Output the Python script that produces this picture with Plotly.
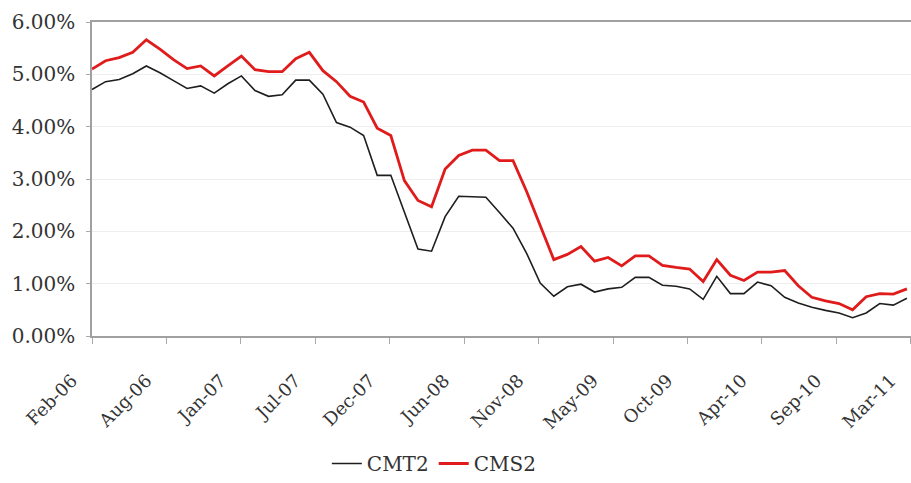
import plotly.graph_objects as go

# monthly yields (%), Feb-06 onwards
cmt2 = [4.71, 4.86, 4.90, 5.01, 5.16, 5.03, 4.88, 4.73, 4.78, 4.64,
        4.82, 4.97, 4.69, 4.58, 4.61, 4.89, 4.89, 4.62, 4.08, 3.99,
        3.83, 3.07, 3.07, 2.37, 1.66, 1.62, 2.28, 2.67, 2.66, 2.65,
        2.36, 2.06, 1.58, 1.01, 0.76, 0.94, 0.99, 0.84, 0.90, 0.93,
        1.12, 1.12, 0.97, 0.95, 0.90, 0.70, 1.14, 0.81, 0.81, 1.03,
        0.96, 0.74, 0.63, 0.55, 0.49, 0.44, 0.35, 0.44, 0.62, 0.59, 0.72]
cms2 = [5.10, 5.26, 5.32, 5.42, 5.66, 5.48, 5.28, 5.11, 5.16, 4.97,
        5.16, 5.35, 5.09, 5.05, 5.05, 5.30, 5.42, 5.07, 4.86, 4.58,
        4.47, 3.97, 3.83, 2.97, 2.59, 2.47, 3.19, 3.45, 3.55, 3.55,
        3.35, 3.35, 2.76, 2.11, 1.46, 1.56, 1.71, 1.43, 1.50, 1.34,
        1.53, 1.53, 1.35, 1.31, 1.28, 1.04, 1.46, 1.16, 1.06, 1.22,
        1.22, 1.25, 0.96, 0.74, 0.67, 0.62, 0.50, 0.75, 0.81, 0.80, 0.90]
tick_labels = ["Feb-06", "Aug-06", "Jan-07", "Jul-07", "Dec-07", "Jun-08",
               "Nov-08", "May-09", "Oct-09", "Apr-10", "Sep-10", "Mar-11"]

month_idx = list(range(len(cmt2)))
x_end = 60.3
tick_pos = [k * (x_end - 0.02) / (len(tick_labels) - 1) for k in range(len(tick_labels))]

fig = go.Figure()
fig.add_trace(go.Scatter(x=month_idx, y=cmt2, mode="lines", name="CMT2",
                         line=dict(color="#1e1e1e", width=1.6)))
fig.add_trace(go.Scatter(x=month_idx, y=cms2, mode="lines", name="CMS2",
                         line=dict(color="#e01b1b", width=2.8)))

fig.update_layout(
    width=911, height=483,
    margin=dict(l=92, r=0, t=22, b=145),
    paper_bgcolor="white", plot_bgcolor="white",
    showlegend=True,
    legend=dict(orientation="h", x=0.418, xanchor="center", y=-0.408, yanchor="middle",
                font=dict(family="DejaVu Serif", size=20, color="#333")),
)
fig.update_xaxes(
    range=[0, x_end], tickmode="array", tickvals=tick_pos, ticktext=tick_labels,
    tickangle=-45, ticks="outside", ticklen=6, tickcolor="#aaaaaa",
    showline=True, linecolor="#a0a0a0", linewidth=2, mirror=True,
    showgrid=False, zeroline=False, automargin=False,
    ticklabelstandoff=19, ticklabelshift=-20, ticklabeloverflow="allow",
    tickfont=dict(family="DejaVu Serif", size=18, color="#333"),
)
fig.update_yaxes(
    range=[0, 6], dtick=1, tickformat=".2f", ticksuffix="%",
    ticks="outside", ticklen=4, tickcolor="#aaaaaa",
    showline=True, linecolor="#a0a0a0", linewidth=1.5,
    showgrid=True, gridcolor="#eeeeee", gridwidth=1, zeroline=False,
    automargin=False, ticklabelstandoff=7,
    tickfont=dict(family="DejaVu Serif", size=20, color="#333"),
)

# drop the default 8px body margin so the figure fills the window exactly
fig.write_html("out.html", config={"displayModeBar": False},
               post_script="document.body.style.margin='0px';")
